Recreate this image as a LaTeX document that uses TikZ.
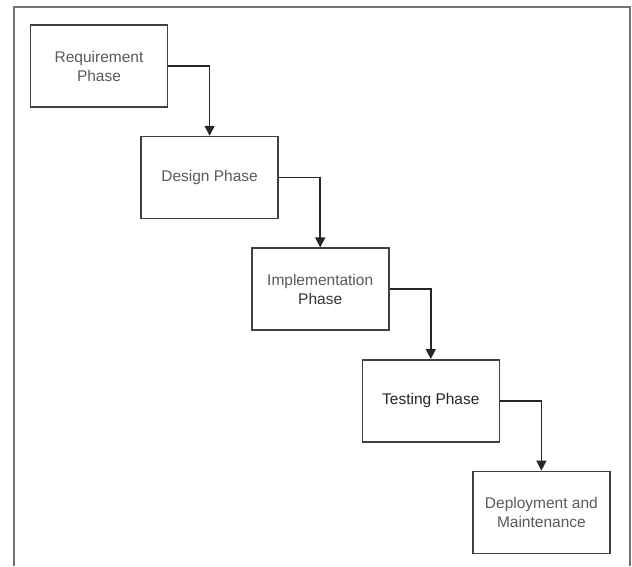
\documentclass[tikz,border=0pt]{standalone}
\usepackage{fontspec}
\setmainfont{Liberation Sans}
\usetikzlibrary{positioning,arrows.meta}

\begin{document}
\begin{tikzpicture}[x=1pt,y=1pt,
		phase/.style={draw=black!75, line width=1.6pt, rectangle, minimum width=137pt, minimum height=82pt, align=center, text=black!65, font=\fontsize{15.5}{19}\selectfont},
		flow/.style={draw=black!85, line width=1.5pt, -{Triangle[width=10pt,length=10pt]}},
		node distance=28pt and -28pt]
				\useasboundingbox (0,0) rectangle (632,566);
				\draw[black!55, line width=1.5pt] (14,0) -- (14,559) -- (630,559) -- (630,0);
				
				\node (req) [phase] at (99,500) {Requirement\\Phase};
				\node (des) [phase, below right=of req] {Design Phase};
				\node (imp) [phase, below right=of des] {Implementation\\\textcolor{black!80}{Phase}};
				\node (tst) [phase, below right=of imp, text=black!85] {Testing Phase};
				\node (dep) [phase, below right=of tst] {Deployment and\\Maintenance};
				
				% Arrows
				\draw[flow] (req.east) -| (des.north);
				\draw[flow] (des.east) -| (imp.north);
				\draw[flow] (imp.east) -| (tst.north);
				\draw[flow] (tst.east) -| (dep.north);
				
			\end{tikzpicture}
\end{document}
